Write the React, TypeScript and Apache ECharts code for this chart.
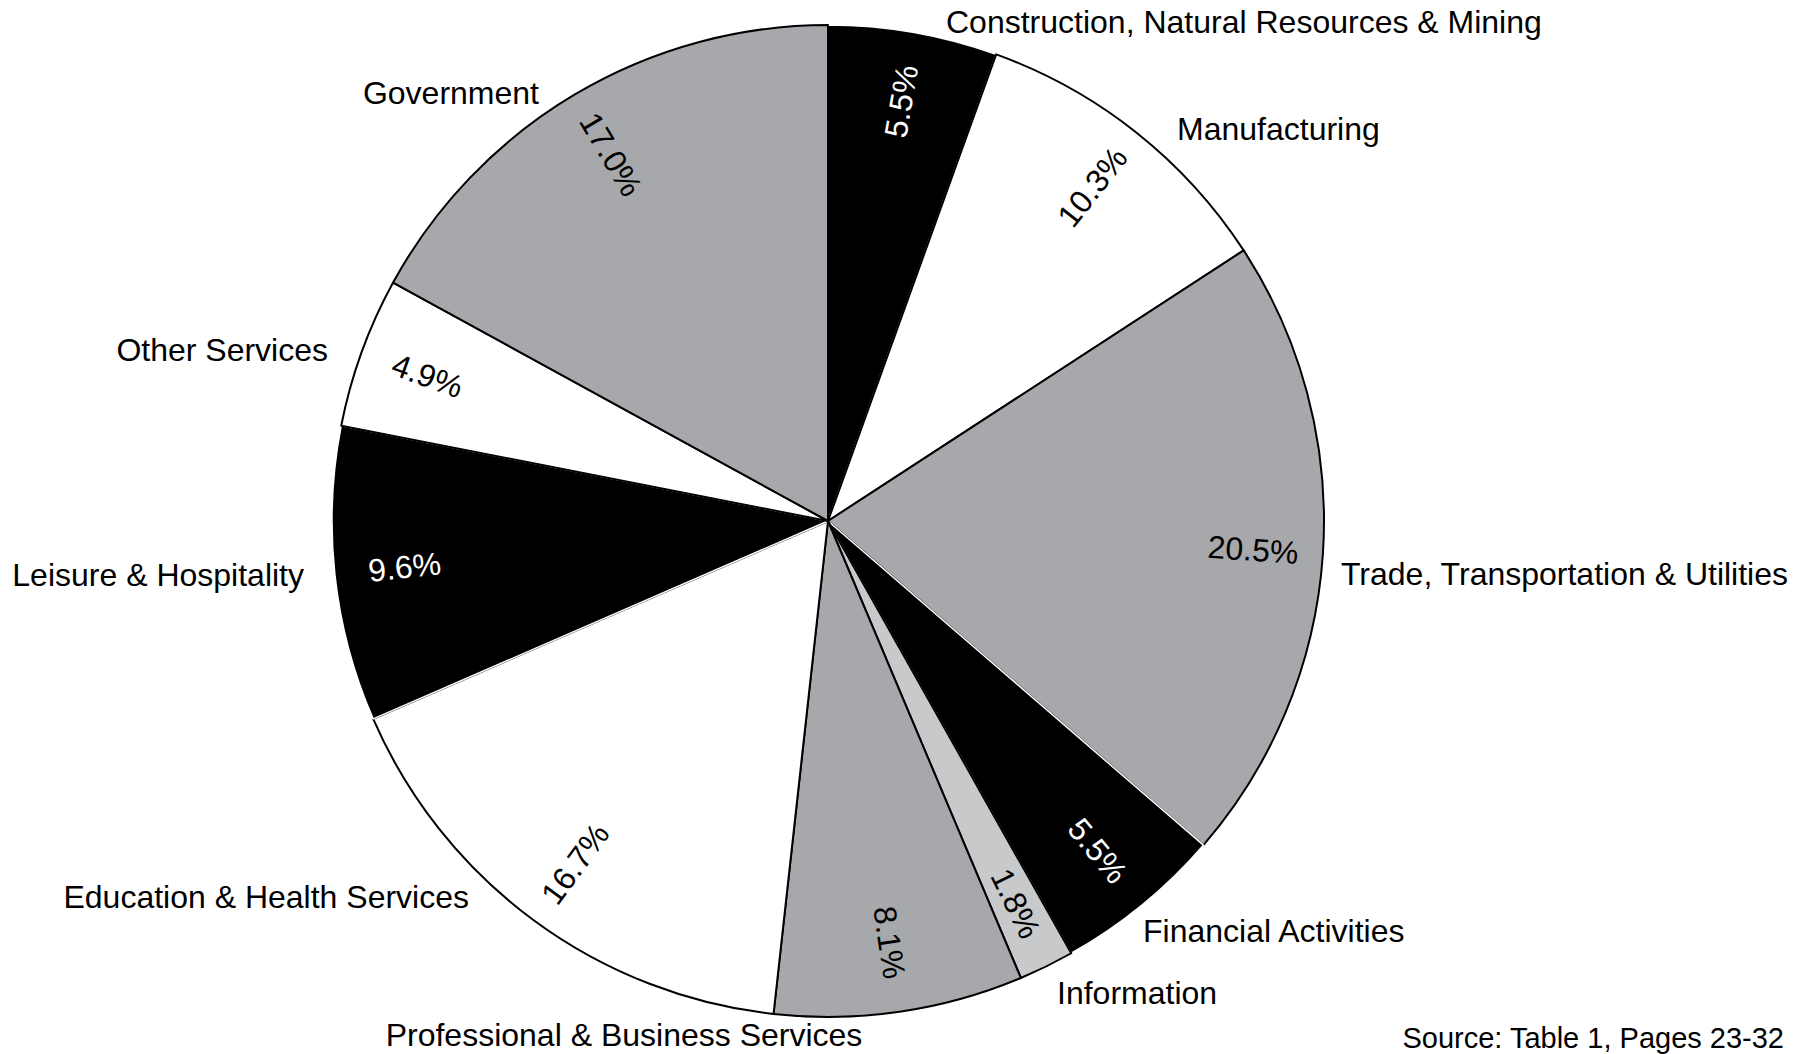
import React, { useEffect, useRef } from "react";
import * as echarts from "echarts";

// ---- Data ----
const categories = [
  "Construction, Natural Resources & Mining",
  "Manufacturing",
  "Trade, Transportation & Utilities",
  "Financial Activities",
  "Information",
  "Professional & Business Services",
  "Education & Health Services",
  "Leisure & Hospitality",
  "Other Services",
  "Government",
];
const shares = [5.5, 10.3, 20.5, 5.5, 1.8, 8.1, 16.7, 9.6, 4.9, 17.0];
const sliceColors = [
  "#000000",
  "#ffffff",
  "#a7a8ab",
  "#000000",
  "#c8c9cb",
  "#a7a8ab",
  "#ffffff",
  "#000000",
  "#ffffff",
  "#a7a8ab",
];
const sourceNote = "Source: Table 1, Pages 23-32";

// ---- Layout (not data) ----
const FONT = "'Liberation Sans', Arial, Helvetica, sans-serif";
const FONT_SIZE = 32;
const CENTER = [828, 521];
const R = 496;
const LABEL_R0 = 350;
const NAME_ANCHORS: { x: number; y: number; align: "left" | "right" | "center" }[] = [
  { x: 946, y: 22, align: "left" },
  { x: 1177, y: 129, align: "left" },
  { x: 1341, y: 574, align: "left" },
  { x: 1143, y: 931, align: "left" },
  { x: 1057, y: 993, align: "left" },
  { x: 624, y: 1035, align: "center" },
  { x: 469, y: 897, align: "right" },
  { x: 304, y: 575, align: "right" },
  { x: 328, y: 350, align: "right" },
  { x: 539, y: 93, align: "right" },
];

const isDark = (c: string) => c === "#000000";

export default function App() {
  const ref = useRef<HTMLDivElement>(null);

  useEffect(() => {
    document.body.style.margin = "0";
    if (!ref.current) return;
    const chart = echarts.init(ref.current, null, { renderer: "svg" });

    const sliceData = categories.map((name, i) => ({
      name,
      value: shares[i],
      itemStyle: {
        color: sliceColors[i],
        borderColor: isDark(sliceColors[i]) ? "#ffffff" : "#000000",
        borderWidth: isDark(sliceColors[i]) ? 1.5 : 2,
      },
    }));

    const pctData = categories.map((name, i) => ({
      name,
      value: shares[i],
      itemStyle: { color: "rgba(0,0,0,0)", borderWidth: 0 },
      label: { color: isDark(sliceColors[i]) ? "#ffffff" : "#000000" },
    }));

    chart.setOption({
      animation: false,
      backgroundColor: "#ffffff",
      series: [
        {
          type: "pie",
          center: CENTER,
          radius: [0, R],
          startAngle: 90,
          clockwise: true,
          silent: true,
          avoidLabelOverlap: false,
          data: sliceData,
          label: {
            show: true,
            position: "outside",
            formatter: "{b}",
            color: "#000000",
            fontSize: FONT_SIZE,
            fontFamily: FONT,
          },
          labelLine: { show: false },
          labelLayout: (p: any) => {
            const a = NAME_ANCHORS[p.dataIndex];
            return { x: a.x, y: a.y, align: a.align, verticalAlign: "middle" };
          },
          emphasis: { disabled: true },
        },
        {
          type: "pie",
          center: CENTER,
          radius: [LABEL_R0, R],
          startAngle: 90,
          clockwise: true,
          silent: true,
          avoidLabelOverlap: false,
          data: pctData,
          label: {
            show: true,
            position: "inside",
            rotate: "radial",
            formatter: (p: any) => `${Number(p.value).toFixed(1)}%`,
            fontSize: FONT_SIZE,
            fontFamily: FONT,
          },
          labelLine: { show: false },
          emphasis: { disabled: true },
        },
      ],
      graphic: [
        {
          type: "text",
          x: 1784,
          y: 1038,
          silent: true,
          style: {
            text: sourceNote,
            fill: "#000000",
            fontSize: 29,
            fontFamily: FONT,
            align: "right",
            verticalAlign: "middle",
          },
        },
      ],
    });

    return () => chart.dispose();
  }, []);

  return <div ref={ref} style={{ width: 1810, height: 1054 }} />;
}
